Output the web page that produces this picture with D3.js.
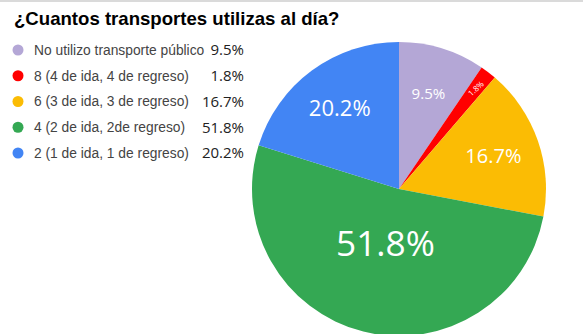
<!DOCTYPE html>
<html><head><meta charset="utf-8">
<script src="https://cdn.jsdelivr.net/npm/d3@7"></script>
<style>body{margin:0;background:#fff;}svg{display:block;}</style>
</head><body>
<svg id="chart" width="583" height="334"></svg>
<script>
const title = "¿Cuantos transportes utilizas al día?";
const categories = [
  "No utilizo transporte público",
  "8 (4 de ida, 4 de regreso)",
  "6 (3 de ida, 3 de regreso)",
  "4 (2 de ida, 2de regreso)",
  "2 (1 de ida, 1 de regreso)"
];
const values = [9.5, 1.8, 16.7, 51.8, 20.2];
const colors = ["#b4a7d6", "#ff0000", "#fbbc04", "#34a853", "#4285f4"];

const W = 583, H = 334;
const svg = d3.select("#chart");
svg.append("rect").attr("width", W).attr("height", H).attr("fill", "#fff");
svg.append("rect").attr("width", W).attr("height", 2).attr("fill", "#dadada");

svg.append("text").attr("x", 14).attr("y", 25)
  .attr("font-family", "Liberation Sans, Arial, sans-serif")
  .attr("font-weight", "bold").attr("font-size", 18.6).attr("fill", "#000")
  .text(title);

const data = categories.map((c, i) => ({cat: c, value: values[i], color: colors[i]}));

// legend
const legendY = d3.scalePoint().domain(categories).range([50, 153]);
const leg = svg.append("g").selectAll("g").data(data).join("g")
  .attr("transform", d => `translate(0,${legendY(d.cat)})`);
leg.append("circle").attr("cx", 18).attr("cy", 0).attr("r", 5.5).attr("fill", d => d.color);
leg.append("text").attr("x", 34).attr("y", 0).attr("dy", "0.35em")
  .attr("font-family", "Liberation Sans, Arial, sans-serif").attr("font-size", 13.8)
  .attr("fill", "#444").text(d => d.cat);
leg.append("text").attr("x", 244).attr("y", 0).attr("dy", "0.35em")
  .attr("text-anchor", "end")
  .attr("font-family", "Open Sans, sans-serif").attr("font-size", 15)
  .attr("fill", "#222").text(d => d.value.toFixed(1) + "%");

// pie
const cx = 399, cy = 189, R = 147;
const pie = d3.pie().value(d => d.value).sort(null);
const arc = d3.arc().innerRadius(0).outerRadius(R);
const arcs = pie(data);
const g = svg.append("g").attr("transform", `translate(${cx},${cy})`);
g.selectAll("path").data(arcs).join("path")
  .attr("d", arc).attr("fill", d => d.data.color);

const fontScale = v => Math.max(8, 4.9 * Math.sqrt(v));
function labelR(v) { return v > 40 ? 0.38 * R : (v < 5 ? 0.86 * R : 0.68 * R); }
g.selectAll("text.lbl").data(arcs).join("text").attr("class", "lbl")
  .attr("transform", d => {
    const a = (d.startAngle + d.endAngle) / 2;
    const r = labelR(d.data.value);
    const x = r * Math.sin(a), y = -r * Math.cos(a);
    const rot = d.data.value < 5 ? (a * 180 / Math.PI - 80) : 0;
    return `translate(${x},${y}) rotate(${rot})`;
  })
  .attr("text-anchor", "middle").attr("dy", "0.36em")
  .attr("font-family", "Open Sans, sans-serif")
  .attr("font-size", d => fontScale(d.data.value))
  .attr("fill", "#fff")
  .text(d => d.data.value.toFixed(1) + "%");
</script>
</body></html>
